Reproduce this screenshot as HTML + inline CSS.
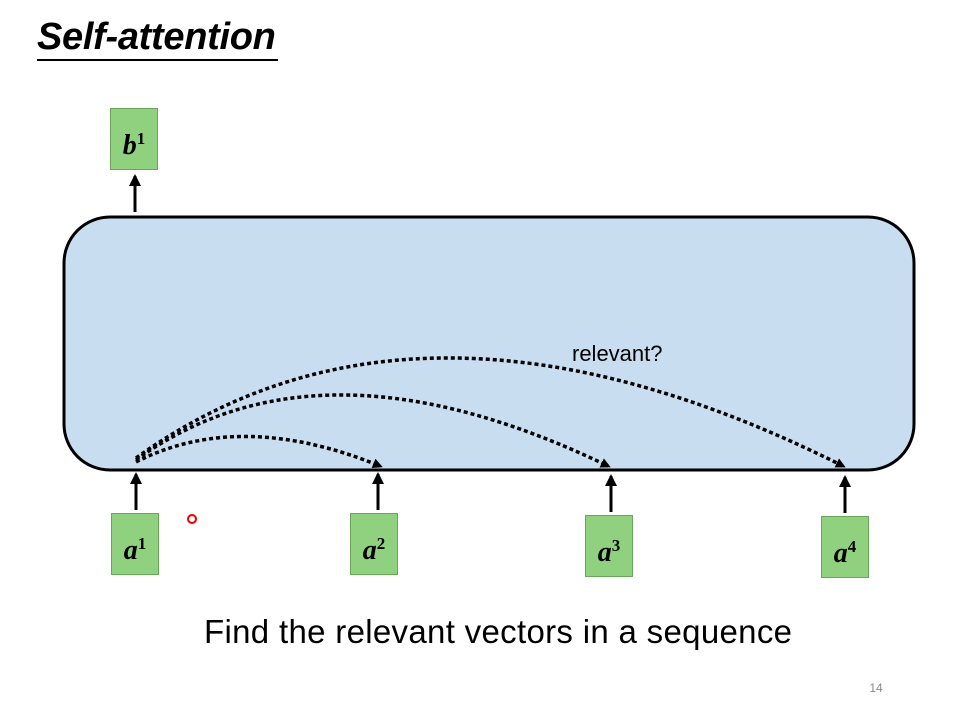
<!DOCTYPE html>
<html><head><meta charset="utf-8"><style>
body{margin:0;width:960px;height:720px;background:#fff;position:relative;overflow:hidden;font-family:"Liberation Sans",sans-serif}
.t{position:absolute;left:37px;top:15px;font-size:38px;font-weight:bold;font-style:italic;border-bottom:2px solid #000;line-height:44px;padding-right:2px;letter-spacing:-0.3px}
.bx{position:absolute;width:48px;height:62px;background:#8fd17e;border:1px solid #6aa65a;box-sizing:border-box;font-family:"Liberation Serif",serif;font-weight:bold;font-style:italic;font-size:28px;text-align:center;line-height:60px}
.bx sup{font-size:17px;font-style:normal;vertical-align:10px}
</style></head><body>
<div class="t">Self-attention</div>
<svg width="960" height="720" style="position:absolute;left:0;top:0">
<defs>
<marker id="ah" markerWidth="10" markerHeight="10" refX="7" refY="5" orient="auto" markerUnits="userSpaceOnUse"><path d="M0,0 L10,5 L0,10z" fill="#000"/></marker>
<marker id="au" markerWidth="12" markerHeight="12" refX="10" refY="6" orient="auto" markerUnits="userSpaceOnUse"><path d="M0,0 L12,6 L0,12z" fill="#000"/></marker>
</defs>
<rect x="64" y="217" width="850" height="253" rx="46" fill="#c8ddf0" stroke="#000" stroke-width="3"/>
<g stroke="#000" stroke-width="3">
<line x1="135" y1="212" x2="135" y2="176" marker-end="url(#au)"/>
<line x1="136" y1="510" x2="136" y2="474" marker-end="url(#au)"/>
<line x1="378" y1="510" x2="378" y2="474" marker-end="url(#au)"/>
<line x1="611" y1="512" x2="611" y2="476" marker-end="url(#au)"/>
<line x1="845" y1="513" x2="845" y2="477" marker-end="url(#au)"/>
</g>
<g fill="none" stroke="#000" stroke-width="3.5" stroke-dasharray="4,3">
<path d="M136,462 Q240,409 380,466" marker-end="url(#ah)"/>
<path d="M136,460 Q320,327 608,466" marker-end="url(#ah)"/>
<path d="M136,458 Q420,254 843,466" marker-end="url(#ah)"/>
</g>
<circle cx="192" cy="519" r="4" fill="none" stroke="#e00" stroke-width="2"/>
<text x="572" y="361" font-size="22" font-family="Liberation Sans, sans-serif">relevant?</text>
<text x="498" y="643" font-size="33" text-anchor="middle" font-family="Liberation Sans, sans-serif" textLength="588">Find the relevant vectors in a sequence</text>
<text x="876" y="692" font-size="12" fill="#888" text-anchor="middle" font-family="Liberation Sans, sans-serif">14</text>
</svg>
<div class="bx" style="left:110px;top:108px">b<sup>1</sup></div>
<div class="bx" style="left:111px;top:513px">a<sup>1</sup></div>
<div class="bx" style="left:350px;top:513px">a<sup>2</sup></div>
<div class="bx" style="left:585px;top:515px">a<sup>3</sup></div>
<div class="bx" style="left:821px;top:516px">a<sup>4</sup></div>
</body></html>
